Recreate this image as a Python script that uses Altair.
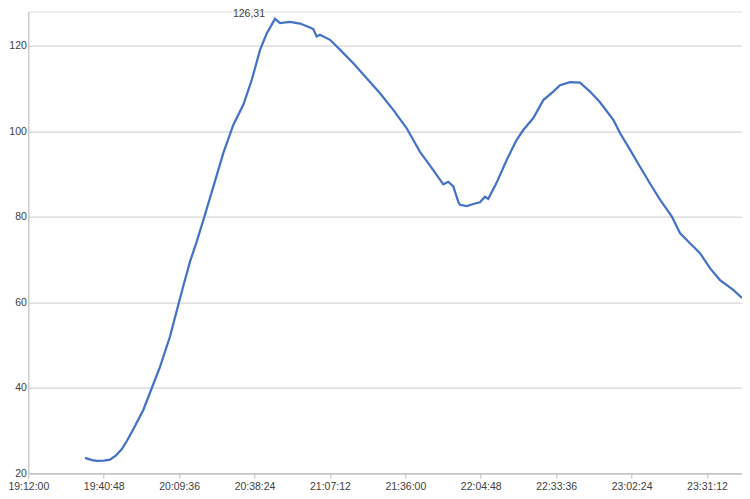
import altair as alt
import pandas as pd

# Time of day (HH:MM:SS) and temperature readings
times = [
    "19:33:39", "19:36:20", "19:38:14", "19:40:55", "19:43:12", "19:45:29", "19:47:40",
    "19:49:41", "19:52:06", "19:55:55", "19:59:08", "20:02:18", "20:06:07", "20:09:33",
    "20:11:12", "20:13:45", "20:16:19", "20:18:50", "20:22:39", "20:26:28", "20:30:17",
    "20:34:07", "20:37:19", "20:40:29", "20:43:03", "20:46:13", "20:48:08", "20:51:56",
    "20:55:46", "20:59:35", "21:00:50", "21:02:08", "21:03:24", "21:07:13", "21:11:02",
    "21:16:07", "21:21:14", "21:26:19", "21:31:23", "21:36:31", "21:41:35", "21:46:40",
    "21:50:29", "21:52:24", "21:54:19", "21:56:13", "21:56:52", "21:59:26", "22:01:57",
    "22:04:30", "22:06:25", "22:07:40", "22:10:53", "22:14:42", "22:18:31", "22:21:02",
    "22:24:52", "22:28:41", "22:32:30", "22:35:04", "22:38:53", "22:42:42", "22:46:31",
    "22:50:20", "22:55:25", "22:57:58", "23:01:47", "23:05:37", "23:09:26", "23:13:15",
    "23:17:43", "23:20:53", "23:24:42", "23:28:31", "23:32:20", "23:36:10", "23:41:14",
    "23:44:34",
]
values = [
    23.6, 23.1, 22.9, 22.95, 23.2, 24.2, 25.6,
    27.6, 30.3, 34.8, 39.9, 44.9, 52.0, 60.0,
    63.8, 69.5, 74.2, 79.2, 87.0, 94.9, 101.5,
    106.2, 112.0, 119.0, 122.9, 126.31, 125.3, 125.6,
    125.2, 124.3, 123.9, 122.2, 122.6, 121.4, 119.1,
    115.9, 112.4, 108.9, 105.0, 100.7, 95.2, 90.9,
    87.6, 88.2, 87.1, 83.5, 82.8, 82.5, 83.0,
    83.4, 84.7, 84.2, 88.0, 93.3, 98.0, 100.3,
    103.1, 107.3, 109.3, 110.8, 111.5, 111.4, 109.3,
    106.8, 102.7, 99.6, 95.7, 91.7, 87.8, 84.0,
    80.1, 76.2, 73.8, 71.5, 68.0, 65.2, 62.9,
    61.0,
]

peak_time = "20:46:13"
peak_value = 126.31
peak_label = "126,31"

x_ticks = ["19:12:00", "19:40:48", "20:09:36", "20:38:24", "21:07:12",
           "21:36:00", "22:04:48", "22:33:36", "23:02:24", "23:31:12"]
x_start = "19:12:00"
x_end = "23:44:34"
y_ticks = [20, 40, 60, 80, 100, 120]
y_min, y_max = 20, 128

DAY = "2024-01-01T"


def dt(hms):
    h, m, s = (int(p) for p in hms.split(":"))
    return alt.DateTime(year=2024, month=1, date=1, hours=h, minutes=m, seconds=s)


df = pd.DataFrame({"t": [DAY + t for t in times], "v": values})
peak_df = pd.DataFrame({"t": [DAY + peak_time], "v": [peak_value], "label": [peak_label]})

FONT = "Liberation Sans"
TEXT = "#404040"

x_enc = alt.X(
    "t:T",
    scale=alt.Scale(domain=[dt(x_start), dt(x_end)], nice=False),
    axis=alt.Axis(
        values=[dt(v) for v in x_ticks],
        format="%H:%M:%S",
        title=None,
        grid=False,
        domainColor="#bfbfbf",
        tickColor="#bfbfbf",
        tickSize=5,
        labelPadding=3,
        labelFont=FONT,
        labelFontSize=10.5,
        labelColor=TEXT,
        labelFlush=False,
        labelOverlap=False,
    ),
)
y_enc = alt.Y(
    "v:Q",
    scale=alt.Scale(domain=[y_min, y_max], nice=False, zero=False),
    axis=alt.Axis(
        values=y_ticks,
        title=None,
        grid=True,
        gridColor="#cdcdcd",
        gridWidth=1,
        domainColor="#bfbfbf",
        ticks=False,
        labelPadding=2,
        labelFont=FONT,
        labelFontSize=10.5,
        labelColor=TEXT,
    ),
)

line = alt.Chart(df).mark_line(color="#4472C4", strokeWidth=2.25).encode(x=x_enc, y=y_enc)

label = alt.Chart(peak_df).mark_text(
    align="right", baseline="alphabetic", dx=-10, dy=-2,
    font=FONT, fontSize=10.5, color=TEXT,
).encode(x="t:T", y="v:Q", text="label:N")

chart = (
    alt.layer(line, label)
    .properties(
        width=713.7,
        height=461.7,
        autosize=alt.AutoSizeParams(type="none"),
        padding={"left": 20.3, "top": 3.6, "right": 0, "bottom": 19},
    )
    .configure_view(stroke=None)
    .configure(background="white")
)

chart.save("out.html", embed_options={"renderer": "svg", "actions": False})
